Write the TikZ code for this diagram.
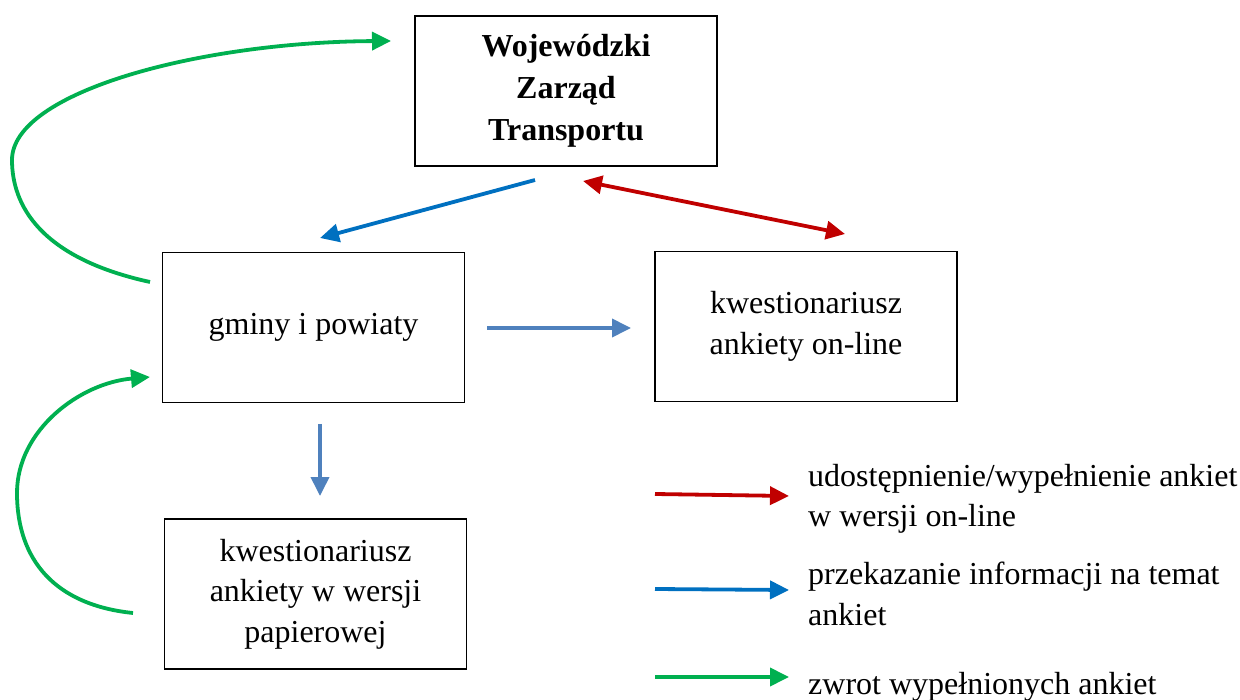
\documentclass[tikz,border=0pt]{standalone}
\usepackage{fontspec}
\setmainfont{Liberation Serif}
\usetikzlibrary{arrows.meta}
\definecolor{cblue}{HTML}{0070C0}
\definecolor{lblue}{HTML}{4F81BD}
\definecolor{cred}{HTML}{C00000}
\definecolor{cgreen}{HTML}{00B050}
\tikzset{
  box/.style={draw=black, line width=1.6pt, minimum width=302pt, minimum height=150pt, align=center, inner sep=0pt},
  conn/.style={line width=3.8pt, -{Triangle[length=19pt,width=18pt]}},
  dconn/.style={line width=3.8pt, {Triangle[length=19pt,width=18pt]}-{Triangle[length=19pt,width=18pt]}},
  legtext/.style={anchor=west, align=left, inner sep=0pt}
}
\begin{document}
\begin{tikzpicture}[x=1pt,y=-1pt, font=\fontsize{32}{40.5}\selectfont]
\useasboundingbox (0,0) rectangle (1240,700);
% boxes
\node[box, font=\fontsize{32}{42}\selectfont\bfseries] (wzt) at (566,91) {Wojewódzki\\Zarząd\\Transportu};
\node[box] (gm) at (313.5,327.5) {gminy i powiaty};
\node[box] (on) at (806,326.5) {kwestionariusz\\ankiety on-line};
\node[box] (pap) at (315.5,594) {kwestionariusz\\ankiety w wersji\\papierowej};
% connector end points
\coordinate (b1s) at (535,180);
\coordinate (b1e) at (320,238);
\coordinate (r1s) at (583,181);
\coordinate (r1e) at (845,234);
\coordinate (b2s) at (487,328);
\coordinate (b2e) at (631,328);
\coordinate (b3s) at (320,424);
\coordinate (b3e) at (320,496);
\coordinate (g1s) at (150,282);
\coordinate (g1m) at (12,160);
\coordinate (g1e) at (391,41);
\coordinate (g2s) at (133,613);
\coordinate (g2m) at (17,493);
\coordinate (g2e) at (150,377);
% connectors
\draw[conn, cblue] (b1s) -- (b1e);
\draw[dconn, cred] (r1s) -- (r1e);
\draw[conn, lblue] (b2s) -- (b2e);
\draw[conn, lblue] (b3s) -- (b3e);
\draw[conn, cgreen] (g1s) .. controls (40,258) and (12,205) .. (g1m)
  .. controls (12,92) and (200,42) .. (g1e);
\draw[conn, cgreen] (g2s) .. controls (55,605) and (17,560) .. (g2m)
  .. controls (17,430) and (80,383) .. (g2e);
% legend
\coordinate (lr1) at (655,494);
\coordinate (lr2) at (789,496);
\coordinate (lb1) at (655,589);
\coordinate (lb2) at (789,590);
\coordinate (lg1) at (655,677);
\coordinate (lg2) at (789,677);
\draw[conn, cred] (lr1) -- (lr2);
\draw[conn, cblue] (lb1) -- (lb2);
\draw[conn, cgreen] (lg1) -- (lg2);
\node[legtext] (t1) at (808,499) {udostępnienie/wypełnienie ankiet\\w wersji on-line};
\node[legtext] (t2) at (808,594) {przekazanie informacji na temat\\ankiet};
\node[legtext] (t3) at (808,687) {zwrot wypełnionych ankiet};
\end{tikzpicture}
\end{document}
